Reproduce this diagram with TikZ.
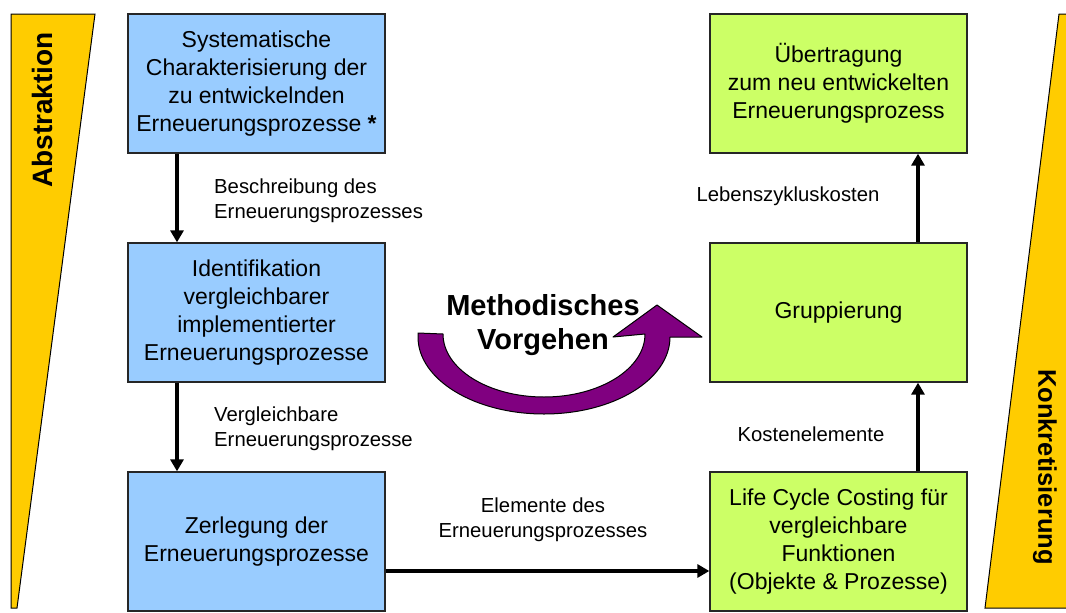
\documentclass[tikz,border=0pt]{standalone}
\usepackage{fontspec}
\setmainfont{Liberation Sans}
\usetikzlibrary{arrows.meta}
\definecolor{boxblue}{HTML}{99CCFF}
\definecolor{boxgreen}{HTML}{CCFF66}
\definecolor{wedge}{HTML}{FFCC00}
\definecolor{purp}{HTML}{800080}
\tikzset{
  bluebox/.style={draw=black!85, line width=1.3pt, fill=boxblue, minimum width=257pt, minimum height=139pt, inner sep=0pt, align=center, font=\fontsize{23}{28}\selectfont},
  greenbox/.style={bluebox, fill=boxgreen},
  flow/.style={line width=3.3pt, -{Triangle[width=13pt,length=12pt]}},
  lbl/.style={font=\fontsize{20.3}{25}\selectfont, inner sep=0pt},
  sidelbl/.style={font=\fontsize{28}{30}\selectfont\bfseries, inner sep=0pt},
  wedgestyle/.style={draw=black, line width=1pt, fill=wedge}
}
\begin{document}
\begin{tikzpicture}[x=1pt,y=-1pt]
\useasboundingbox (0,0) rectangle (1066,613);
\fill[white] (0,0) rectangle (1066,613);
% side wedges
\draw[wedgestyle] (11,14) -- (95,14) -- (17,608) -- (11,608) -- cycle;
\draw[wedgestyle] (1059,14) -- (1067,14) -- (1067,608) -- (985,608) -- cycle;
\node[sidelbl, rotate=90] (abs) at (42,110) {Abstraktion};
\node[sidelbl, font=\fontsize{25.5}{30}\selectfont\bfseries, rotate=-90] (konk) at (1045,467) {Konkretisierung};
% boxes
\node[bluebox] (b1) at (256.5,83.5) {Systematische\\Charakterisierung der\\zu entwickelnden\\Erneuerungsprozesse \textbf{*}};
\node[bluebox] (b2) at (256.5,312.5) {Identifikation\\vergleichbarer\\implementierter\\Erneuerungsprozesse};
\node[bluebox] (b3) at (256.5,541.5) {Zerlegung der\\Erneuerungsprozesse};
\node[greenbox] (g1) at (838.5,83.5) {Übertragung\\zum neu entwickelten\\Erneuerungsprozess};
\node[greenbox] (g2) at (838.5,312.5) {Gruppierung};
\node[greenbox] (g3) at (838.5,541.5) {Life Cycle Costing für\\vergleichbare\\Funktionen\\(Objekte \& Prozesse)};
% connectors
\draw[flow] (b1.south -| 177,0) -- (b2.north -| 177,0);
\draw[flow] (b2.south -| 177,0) -- (b3.north -| 177,0);
\draw[flow] (b3.east |- 0,571) -- (g3.west |- 0,571);
\draw[flow] (g3.north -| 918,0) -- (g2.south -| 918,0);
\draw[flow] (g2.north -| 918,0) -- (g1.south -| 918,0);
% labels
\node[lbl, anchor=west, align=left] (l1) at (214,201) {Beschreibung des\\Erneuerungsprozesses};
\node[lbl, anchor=west, align=left] (l2) at (214,429) {Vergleichbare\\Erneuerungsprozesse};
\node[lbl, align=center] (l3) at (543,520) {Elemente des\\Erneuerungsprozesses};
\node[lbl] (l4) at (788,196) {Lebenszykluskosten};
\node[lbl] (l5) at (811,434) {Kostenelemente};
% curved arrow
\draw[draw=black, line width=1pt, fill=purp, line join=round]
  (418,333) -- (443,334)
  arc[start angle=180, end angle=0, x radius=101, y radius=63]
  -- (613,337) -- (657,305) -- (702,337) -- (670,337)
  arc[start angle=0, end angle=180, x radius=126, y radius=77] -- cycle;
\node[font=\fontsize{29}{34}\selectfont\bfseries, align=center, inner sep=0pt] (mv) at (543,325) {Methodisches\\Vorgehen};
\end{tikzpicture}
\end{document}
